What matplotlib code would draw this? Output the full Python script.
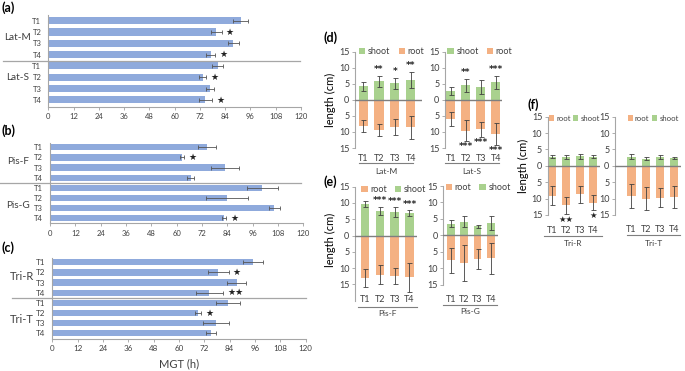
import matplotlib
matplotlib.use("Agg")
import matplotlib.pyplot as plt
from matplotlib.ticker import FuncFormatter

plt.rcParams['font.family'] = ['Lato', 'DejaVu Sans']

W, H = 685, 371
fig = plt.figure(figsize=(W / 100, H / 100), dpi=100)

BLUE = '#8FAADC'
GREEN = '#A9D18E'
ORANGE = '#F4B183'
GRAY = '#7F7F7F'
TXT = '#404040'

treat = ['T1', 'T2', 'T3', 'T4']

# ---- MGT data (panels a-c) ----
latm_mgt = [91.4, 79.8, 87.9, 77.1]
latm_mgt_err = [3.6, 2.5, 2.8, 2.0]
latm_mgt_sig = ['', '★', '', '★']
lats_mgt = [80.4, 73.3, 76.9, 74.6]
lats_mgt_err = [2.5, 1.5, 2.0, 3.0]
lats_mgt_sig = ['', '★', '', '★']

pisf_mgt = [74.2, 62.4, 82.9, 66.6]
pisf_mgt_err = [4.3, 1.0, 6.7, 1.5]
pisf_mgt_sig = ['', '★', '', '']
pisg_mgt = [100.6, 83.7, 106.3, 82.4]
pisg_mgt_err = [7.3, 10.0, 2.7, 1.0]
pisg_mgt_sig = ['', '', '', '★']

trir_mgt = [95.2, 78.6, 87.3, 74.4]
trir_mgt_err = [4.8, 4.9, 4.5, 6.5]
trir_mgt_sig = ['', '★', '', '★★']
trit_mgt = [83.1, 69.0, 77.5, 75.2]
trit_mgt_err = [5.8, 1.5, 6.3, 2.5]
trit_mgt_sig = ['', '★', '', '']

mgt_ticks = [0, 12, 24, 36, 48, 60, 72, 84, 96, 108, 120]

# ---- length data (panels d-f) ----
latm_shoot = [4.3, 5.8, 5.1, 6.2]
latm_shoot_err = [1.4, 1.7, 1.8, 2.6]
latm_root = [8.1, 9.5, 8.6, 8.5]
latm_root_err = [1.8, 1.9, 2.5, 3.6]
latm_shoot_sig = ['', '**', '*', '**']
latm_root_sig = ['', '', '', '']

lats_shoot = [2.8, 4.6, 4.0, 5.5]
lats_shoot_err = [1.3, 2.0, 2.2, 2.0]
lats_root = [6.1, 9.6, 9.2, 10.6]
lats_root_err = [2.2, 3.2, 2.3, 3.5]
lats_shoot_sig = ['', '**', '', '***']
lats_root_sig = ['', '***', '***', '***']

pisf_shoot = [9.7, 7.6, 7.2, 6.9]
pisf_shoot_err = [1.0, 1.3, 1.6, 1.0]
pisf_root = [13.1, 12.1, 12.4, 12.8]
pisf_root_err = [2.7, 2.9, 2.5, 4.5]
pisf_shoot_sig = ['', '***', '***', '***']
pisf_root_sig = ['', '', '', '']

pisg_shoot = [3.6, 4.2, 2.7, 3.8]
pisg_shoot_err = [1.1, 1.7, 0.5, 2.2]
pisg_root = [7.6, 8.5, 7.2, 7.0]
pisg_root_err = [3.7, 5.5, 3.0, 4.8]
pisg_shoot_sig = ['', '', '', '']
pisg_root_sig = ['', '', '', '']

trir_shoot = [2.8, 2.7, 2.9, 2.8]
trir_shoot_err = [0.5, 0.6, 0.7, 0.5]
trir_root = [9.2, 12.0, 8.7, 11.2]
trir_root_err = [2.9, 2.6, 2.5, 2.3]
trir_shoot_sig = ['', '', '', '']
trir_root_sig = ['', '★★', '', '★']

trit_shoot = [2.8, 2.2, 2.8, 2.4]
trit_shoot_err = [0.7, 0.4, 0.6, 0.2]
trit_root = [9.2, 10.1, 9.8, 9.6]
trit_root_err = [3.6, 3.5, 2.9, 3.4]
trit_shoot_sig = ['', '', '', '']
trit_root_sig = ['', '', '', '']

len_ticks = [-15, -10, -5, 0, 5, 10, 15]


def px_axes(x0, y0, x1, y1):
    return fig.add_axes([x0 / W, 1 - y1 / H, (x1 - x0) / W, (y1 - y0) / H])


def mgt_panel(box, ylim, g1, g2, labfs, tickfs, sep_x, g1_pos, g2_pos, glabel_x):
    ax = px_axes(*box)
    names = [g1[0], g2[0]]
    vals = list(g1[1]) + list(g2[1])
    errs = list(g1[2]) + list(g2[2])
    sigs = list(g1[3]) + list(g2[3])
    pos = list(range(8))
    ax.barh(pos, vals, height=0.62, color=BLUE, zorder=2)
    ax.errorbar(vals, pos, xerr=errs, fmt='none', ecolor='#555555',
                elinewidth=0.6, capsize=1.6, capthick=0.6, zorder=3)
    for p, v, e, s in zip(pos, vals, errs, sigs):
        if s:
            ax.text(v + e + 2.0, p, s, ha='left', va='center', fontsize=6.5,
                    color='#222222', family=['DejaVu Sans'])
    ax.set_xlim(0, 120)
    ax.set_ylim(*ylim)
    ax.set_yticks(pos)
    ax.set_yticklabels(treat * 2, fontsize=tickfs, color=TXT)
    ax.tick_params(axis='y', length=0, pad=5)
    ax.set_xticks(mgt_ticks)
    ax.tick_params(axis='x', labelsize=tickfs, colors=TXT, length=2.5,
                   width=0.6, pad=2, color='#A0A0A0')
    for s in ['top', 'right']:
        ax.spines[s].set_visible(False)
    for s in ['left', 'bottom']:
        ax.spines[s].set_color('#A6A6A6')
        ax.spines[s].set_linewidth(0.8)
    ax.plot(sep_x, [3.55, 3.55], color='#A6A6A6', lw=0.9,
            transform=ax.get_yaxis_transform(), clip_on=False)
    ax.text(glabel_x, g1_pos, names[0], transform=ax.get_yaxis_transform(),
            ha='center', va='center', fontsize=labfs, color=TXT)
    ax.text(glabel_x, g2_pos, names[1], transform=ax.get_yaxis_transform(),
            ha='center', va='center', fontsize=labfs, color=TXT)
    return ax


ax_a = mgt_panel((48.3, 15, 301, 107), (7.62, -0.5),
                 ('Lat-M', latm_mgt, latm_mgt_err, latm_mgt_sig),
                 ('Lat-S', lats_mgt, lats_mgt_err, lats_mgt_sig),
                 7.2, 5.5, [-0.18, 0.996], 1.45, 5.0, -0.12)
ax_b = mgt_panel((50, 143.3, 303.3, 223.3), (7.49, -0.39),
                 ('Pis-F', pisf_mgt, pisf_mgt_err, pisf_mgt_sig),
                 ('Pis-G', pisg_mgt, pisg_mgt_err, pisg_mgt_sig),
                 7.2, 5.5, [-0.197, 0.99], 1.4, 5.75, -0.125)
ax_c = mgt_panel((52.3, 258.3, 305.7, 339), (7.56, -0.39),
                 ('Tri-R', trir_mgt, trir_mgt_err, trir_mgt_sig),
                 ('Tri-T', trit_mgt, trit_mgt_err, trit_mgt_sig),
                 8.0, 5.8, [-0.16, 1.0], 1.42, 5.6, -0.12)
ax_c.set_xlabel('MGT (h)', fontsize=8, color=TXT, labelpad=4)

fig.text(1 / W, 1 - 8 / H, '(a)', fontsize=9, fontweight='bold', va='center', ha='left')
fig.text(2 / W, 1 - 131 / H, '(b)', fontsize=9, fontweight='bold', va='center', ha='left')
fig.text(1 / W, 1 - 247.5 / H, '(c)', fontsize=9, fontweight='bold', va='center', ha='left')


def len_panel(box, ylim, xlim, shoot, shoot_err, root, root_err, shoot_sig, root_sig,
              group, line_x, line_y, glab_y, order, leg_x, leg_y, tpad, star_font,
              spine_low=None, leg_fs=6.5, colsp=0.9, hlen=0.7):
    ax = px_axes(*box)
    x = list(range(4))
    neg_root = [-r for r in root]
    ax.bar(x, shoot, width=0.58, color=GREEN, zorder=2, label='shoot')
    ax.bar(x, neg_root, width=0.58, color=ORANGE, zorder=2, label='root')
    ax.errorbar(x, shoot, yerr=shoot_err, fmt='none', ecolor='#404040',
                elinewidth=0.6, capsize=1.8, capthick=0.6, zorder=3)
    ax.errorbar(x, neg_root, yerr=root_err, fmt='none', ecolor='#404040',
                elinewidth=0.6, capsize=1.8, capthick=0.6, zorder=3)
    ax.axhline(0, color=GRAY, lw=1.0, zorder=4)
    for xi, v, e, s in zip(x, shoot, shoot_err, shoot_sig):
        if s:
            ax.text(xi, v + e + 0.4, s, ha='center', va='bottom', fontsize=star_font,
                    color='#222222', family=['DejaVu Sans'], fontweight='bold')
    for xi, v, e, s in zip(x, root, root_err, root_sig):
        if s:
            ax.text(xi, -(v + e) - 0.3, s, ha='center', va='top', fontsize=star_font,
                    color='#222222', family=['DejaVu Sans'], fontweight='bold')
    ax.set_xlim(*xlim)
    ax.set_ylim(*ylim)
    ax.set_yticks(len_ticks)
    ax.yaxis.set_major_formatter(FuncFormatter(lambda v, p: f'{abs(int(v))}'))
    ax.tick_params(axis='y', labelsize=6.5, colors=TXT, length=2.5, width=0.6,
                   pad=1.5, color='#A0A0A0')
    ax.set_xticks(x)
    ax.set_xticklabels(treat, fontsize=6.5, color=TXT)
    ax.tick_params(axis='x', length=0, pad=tpad)
    for s in ['top', 'right', 'bottom']:
        ax.spines[s].set_visible(False)
    ax.spines['left'].set_color('#A6A6A6')
    ax.spines['left'].set_linewidth(0.8)
    if spine_low is not None:
        ax.spines['left'].set_bounds(spine_low, ylim[1])
    ax.plot(line_x, [line_y, line_y], color=GRAY, lw=0.8,
            transform=ax.transAxes, clip_on=False)
    ax.text(sum(line_x) / 2, glab_y, group, transform=ax.transAxes,
            ha='center', va='center', fontsize=6, color=TXT)
    handles, labels = ax.get_legend_handles_labels()
    hmap = dict(zip(labels, handles))
    leg = ax.legend([hmap[k] for k in order], order, loc='center left',
                    bbox_to_anchor=(leg_x, leg_y), ncol=2, frameon=False,
                    fontsize=leg_fs, handlelength=hlen, handleheight=hlen,
                    handletextpad=0.3, columnspacing=colsp, borderpad=0,
                    borderaxespad=0)
    for t in leg.get_texts():
        t.set_color(TXT)
    return ax


# (d)
ax_d1 = len_panel((355, 51.7, 421.7, 148), (-15, 15), (-0.52, 3.7),
                  latm_shoot, latm_shoot_err, latm_root, latm_root_err,
                  latm_shoot_sig, latm_root_sig, 'Lat-M',
                  [0.06, 0.87], -0.159, -0.246, ['shoot', 'root'], 0.06, 1.0, 4.5, 6.5)
ax_d1.set_ylabel('length (cm)', fontsize=8, color='black', labelpad=2)
ax_d2 = len_panel((445, 51.7, 501.7, 148), (-15, 15), (-0.38, 3.4),
                  lats_shoot, lats_shoot_err, lats_root, lats_root_err,
                  lats_shoot_sig, lats_root_sig, 'Lat-S',
                  [0.0, 0.95], -0.159, -0.246, ['shoot', 'root'], 0.04, 1.0, 4.5, 6.5)

# (e)
ax_e1 = len_panel((355, 186.7, 417.3, 292.5), (-17.5, 15), (-0.68, 3.53),
                  pisf_shoot, pisf_shoot_err, pisf_root, pisf_root_err,
                  pisf_shoot_sig, pisf_root_sig, 'Pis-F',
                  [0.05, 0.99], -0.134, -0.203, ['root', 'shoot'], 0.1, 0.975, 1.5, 6.5,
                  spine_low=-20)
ax_e1.set_ylabel('length (cm)', fontsize=8, color='black', labelpad=2)
ax_e2 = len_panel((443.3, 186, 498.3, 284.7), (-15, 15), (-0.58, 3.56),
                  pisg_shoot, pisg_shoot_err, pisg_root, pisg_root_err,
                  pisg_shoot_sig, pisg_root_sig, 'Pis-G',
                  [-0.01, 0.97], -0.206, -0.274, ['root', 'shoot'], 0.04, 0.985, 7.5, 6.5)

# (f)
ax_f1 = len_panel((547.7, 116.7, 600, 215), (-15, 15), (-0.34, 3.48),
                  trir_shoot, trir_shoot_err, trir_root, trir_root_err,
                  trir_shoot_sig, trir_root_sig, 'Tri-R',
                  [-0.065, 1.03], -0.21, -0.288, ['root', 'shoot'], 0.02, 0.985, 8, 6,
                  leg_fs=5.6, colsp=0.35, hlen=0.65)
ax_f1.set_ylabel('length (cm)', fontsize=8, color='black', labelpad=2)
ax_f2 = len_panel((615, 116.7, 681, 215), (-15, 15), (-1.15, 3.47),
                  trit_shoot, trit_shoot_err, trit_root, trit_root_err,
                  trit_shoot_sig, trit_root_sig, 'Tri-T',
                  [0.186, 0.985], -0.204, -0.288, ['root', 'shoot'], 0.19, 0.985, 7, 6,
                  leg_fs=5.6, colsp=0.35, hlen=0.65)

fig.text(324 / W, 1 - 38 / H, '(d)', fontsize=9, fontweight='bold', va='center', ha='left')
fig.text(323 / W, 1 - 181.7 / H, '(e)', fontsize=9, fontweight='bold', va='center', ha='left')
fig.text(528 / W, 1 - 105 / H, '(f)', fontsize=9, fontweight='bold', va='center', ha='left')

fig.savefig('out.png', dpi=100)
